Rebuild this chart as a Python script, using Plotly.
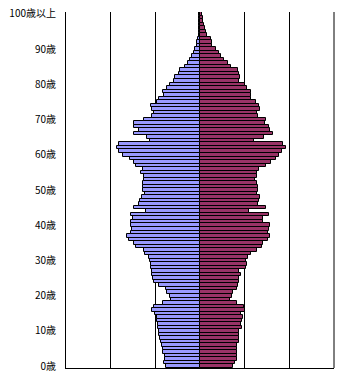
import plotly.graph_objects as go

# ages 0 .. 100 (100 = "100歳以上")
ages = list(range(0, 101))

# population by age (approx.), listed from age 100 down to age 0
male_desc = [
    110, 75, 75, 75, 75, 110, 150, 260, 300, 370,          # 100..91
    600, 630, 860, 1080, 1380, 1720, 2240, 2390, 2760, 2910,  # 90..81
    3360, 3650, 4100, 3990, 4550, 4770, 5440, 5330, 5110, 5330,  # 80..71
    6230, 7350, 7350, 6860, 7350, 5970, 5590, 9100, 9250, 9020,  # 70..61
    8650, 7870, 7420, 7160, 6340, 6640, 6300, 6300, 6410, 6340,  # 60..51
    6410, 6120, 6450, 6750, 6860, 7420, 6000, 7680, 7460, 7760,  # 50..41
    7760, 7640, 7760, 8130, 7900, 7420, 7120, 6230, 6120, 5670,  # 40..31
    5590, 5480, 5520, 5370, 5410, 5220, 5180, 4620, 3840, 3650,  # 30..21
    3390, 3210, 4100, 5110, 5330, 5000, 4770, 4770, 4700, 4740,  # 20..11
    4550, 4620, 4440, 4360, 4210, 4100, 4180, 3950, 3880, 4030,  # 10..1
    3840,                                                      # 0
]
female_desc = [
    260, 300, 370, 410, 600, 710, 750, 1190, 1340, 1380,      # 100..91
    1830, 2090, 2350, 2690, 3130, 3430, 4210, 4400, 4510, 4330,  # 90..81
    5070, 5260, 5670, 5740, 5740, 6230, 6640, 6680, 6410, 6450,  # 80..71
    7350, 7230, 7720, 7870, 8200, 7200, 6080, 9320, 9580, 9210,  # 70..61
    8880, 8540, 7900, 7420, 6600, 6410, 6410, 6120, 6340, 6530,  # 60..51
    6490, 6340, 6680, 6560, 6450, 7420, 5520, 7680, 7090, 7090,  # 50..41
    7790, 7760, 7610, 7790, 7570, 7090, 6900, 6340, 5670, 5330,  # 40..31
    5150, 5220, 5110, 4400, 4620, 4360, 4330, 4250, 4180, 3730,  # 30..21
    3580, 3360, 4180, 4890, 5030, 4550, 4850, 4660, 4550, 4740,  # 20..11
    4400, 4400, 4360, 4330, 4180, 4180, 4180, 4140, 4100, 3920,  # 10..1
    3730,                                                      # 0
]
male = male_desc[::-1]
female = female_desc[::-1]

tick_vals = [0, 10, 20, 30, 40, 50, 60, 70, 80, 90, 100]
tick_text = ["0歳", "10歳", "20歳", "30歳", "40歳", "50歳", "60歳", "70歳", "80歳", "90歳", "100歳以上"]

fig = go.Figure()
fig.add_trace(go.Bar(
    y=ages, x=[-v for v in male], orientation="h", name="男",
    marker=dict(color="#9999FF", line=dict(color="#000000", width=1)),
    width=1,
))
fig.add_trace(go.Bar(
    y=ages, x=female, orientation="h", name="女",
    marker=dict(color="#993366", line=dict(color="#000000", width=1)),
    width=1,
))

fig.update_layout(
    width=339, height=381,
    margin=dict(l=66, r=5, t=12, b=13),
    paper_bgcolor="#FFFFFF", plot_bgcolor="#FFFFFF",
    barmode="relative", bargap=0, showlegend=False,
    font=dict(family="Noto Sans CJK JP", size=10, color="#000000"),
    shapes=[dict(type="line", xref="paper", yref="paper", x0=1, x1=1, y0=0, y1=1,
                 line=dict(color="#000000", width=1), layer="above")],
)
fig.update_xaxes(
    range=[-15000, 15000], dtick=5000, tick0=0,
    showgrid=True, gridcolor="#000000", gridwidth=1,
    zeroline=True, zerolinecolor="#000000", zerolinewidth=1,
    showticklabels=False, ticks="",
    showline=True, linecolor="#000000", linewidth=1,
)
fig.update_yaxes(
    range=[-0.5, 100.5], tickmode="array", tickvals=tick_vals, ticktext=tick_text,
    showgrid=False, zeroline=False, ticks="", ticklabelstandoff=7,
    showline=True, linecolor="#000000", linewidth=1,
    tickfont=dict(family="Noto Sans CJK JP", size=10, color="#000000"),
)

fig.write_html("out.html")
